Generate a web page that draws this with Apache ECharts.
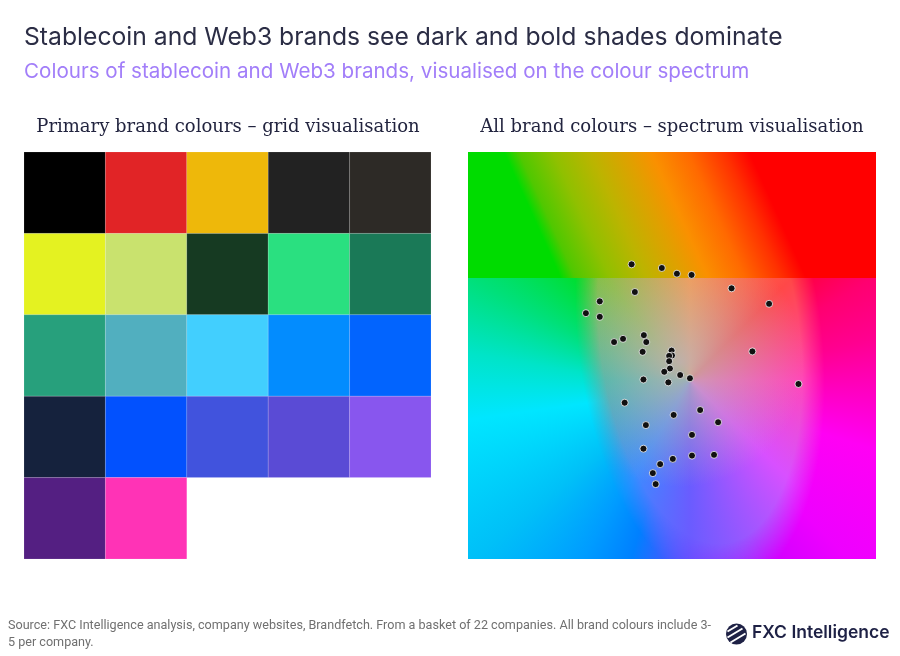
<!DOCTYPE html>
<html>
<head>
<meta charset="utf-8">
<script src="https://cdn.jsdelivr.net/npm/echarts@6/dist/echarts.min.js"></script>
<style>
  html, body { margin: 0; padding: 0; background: #fff; }
  #main { width: 900px; height: 656px; }
</style>
</head>
<body>
<div id="main"></div>
<script>
// left panel: primary brand colours, 5 per row
var gridCols = ['c1', 'c2', 'c3', 'c4', 'c5'];
var gridRows = ['r1', 'r2', 'r3', 'r4', 'r5'];
var primaryColours = [
  '#000000', '#E12426', '#EEB80A', '#222222', '#2D2A26',
  '#E4F221', '#C9E26E', '#163A22', '#2AE080', '#1A7957',
  '#27A07C', '#51AFBF', '#42CFFE', '#038CFE', '#0264FE',
  '#15223D', '#0251FE', '#4153DD', '#5A4BD5', '#8856EE',
  '#541F82', '#FF33B6'
];

// right panel: all brand colours placed on the spectrum (0-100 both ways)
var spotX = [40.1, 47.5, 51.2, 54.8, 64.6, 40.9, 73.8, 32.3, 28.9, 32.3,
             43.1, 38.0, 35.8, 43.7, 42.8, 49.9, 50.0, 49.3, 49.3, 49.5,
             48.1, 52.0, 54.4, 43.0, 49.1, 69.7, 81.0, 38.4, 56.9, 50.4,
             61.3, 43.6, 54.9, 43.0, 60.3, 54.9, 50.2, 47.1, 45.3, 46.0];
var spotY = [72.4, 71.5, 70.1, 69.8, 66.5, 65.6, 62.7, 63.3, 60.4, 59.5,
             55.0, 54.1, 53.3, 53.3, 50.9, 51.2, 50.0, 49.9, 48.6, 46.8,
             46.0, 45.2, 44.4, 44.1, 43.4, 51.0, 43.0, 38.4, 36.6, 35.4,
             33.6, 32.9, 30.5, 27.1, 25.6, 25.4, 24.6, 23.3, 21.1, 18.4];

var titleText = 'Stablecoin and Web3 brands see dark and bold shades dominate';
var subtitleText = 'Colours of stablecoin and Web3 brands, visualised on the colour spectrum';
var leftHead = 'Primary brand colours \u2013 grid visualisation';
var rightHead = 'All brand colours \u2013 spectrum visualisation';
var sourceText = 'Source: FXC Intelligence analysis, company websites, Brandfetch. From a basket of 22 companies. All brand colours include 3-\n5 per company.';

function addStops(g, stops) {
  stops.forEach(function (s) { g.addColorStop(s[0] / 360, s[1]); });
}

// background picture for the spectrum panel
function makeSpectrum(w, h) {
  var cv = document.createElement('canvas');
  cv.width = w; cv.height = h;
  var ctx = cv.getContext('2d');
  var seam = 126;
  var hasConic = !!ctx.createConicGradient;

  // lower band, outer hues
  if (hasConic) {
    var g = ctx.createConicGradient(0, 212, 238);
    addStops(g, [
      [0, '#FF00C0'], [17, '#FF00F4'], [45, '#EE00FF'], [62, '#D000FF'],
      [85, '#7040FF'], [106, '#0080FF'], [120, '#009CFF'], [141, '#00C0F8'],
      [172, '#00E6FF'], [190, '#00E4C8'], [208, '#00E07A'], [240, '#00DD00'],
      [300, '#FF0000'], [330, '#FF0070'], [345, '#FF0090'], [360, '#FF00C0']
    ]);
    ctx.fillStyle = g;
  } else {
    ctx.fillStyle = '#00C8FF';
  }
  ctx.fillRect(0, seam, w, h - seam);

  // inner, paler ellipse
  var inner = document.createElement('canvas');
  inner.width = w; inner.height = h;
  var ic = inner.getContext('2d');
  if (hasConic) {
    var g2 = ic.createConicGradient(0, 222, 228);
    addStops(g2, [
      [0, '#FF48B8'], [45, '#D850FF'], [90, '#6A5CFF'], [120, '#3C8CFF'],
      [180, '#28BCA8'], [230, '#88C040'], [270, '#FF9840'], [315, '#FF4848'],
      [360, '#FF48B8']
    ]);
    ic.fillStyle = g2;
  } else {
    ic.fillStyle = '#B0A8C0';
  }
  ic.fillRect(0, 0, w, h);
  var gr = ic.createRadialGradient(212, 210, 0, 212, 210, 125);
  gr.addColorStop(0, 'rgba(192,176,180,0.9)');
  gr.addColorStop(0.45, 'rgba(192,176,180,0.5)');
  gr.addColorStop(1, 'rgba(192,176,180,0)');
  ic.fillStyle = gr;
  ic.fillRect(0, 0, w, h);
  // soft elliptical mask
  ic.save();
  ic.globalCompositeOperation = 'destination-in';
  ic.translate(232, 188);
  ic.rotate(-0.12);
  ic.scale(122, 250);
  var gm = ic.createRadialGradient(0, 0, 0, 0, 0, 1);
  gm.addColorStop(0, 'rgba(0,0,0,1)');
  gm.addColorStop(0.82, 'rgba(0,0,0,1)');
  gm.addColorStop(1, 'rgba(0,0,0,0)');
  ic.fillStyle = gm;
  ic.fillRect(-5, -5, 10, 10);
  ic.restore();

  ctx.save();
  ctx.beginPath();
  ctx.rect(0, seam, w, h - seam);
  ctx.clip();
  ctx.drawImage(inner, 0, 0);
  ctx.restore();

  // upper band
  var gt = ctx.createLinearGradient(36, 0, 240, -92);
  gt.addColorStop(0, '#00DC00');
  gt.addColorStop(0.06, '#50C800');
  gt.addColorStop(0.2, '#90C000');
  gt.addColorStop(0.35, '#BCB400');
  gt.addColorStop(0.5, '#E0A000');
  gt.addColorStop(0.6, '#FA9000');
  gt.addColorStop(0.75, '#FF6A00');
  gt.addColorStop(0.9, '#FF3000');
  gt.addColorStop(1, '#FF0000');
  ctx.fillStyle = gt;
  ctx.fillRect(0, 0, w, seam);
  return cv;
}

var spectrum = makeSpectrum(408, 407);

var cellData = primaryColours.map(function (c, i) {
  return [i % 5, Math.floor(i / 5)];
});
var spotData = spotX.map(function (x, i) { return [x, spotY[i]]; });

var myChart = echarts.init(document.getElementById('main'));
var option = {
  backgroundColor: '#ffffff',
  animation: false,
  title: [
    {
      text: titleText, left: 24, top: 25, padding: 0,
      textStyle: { fontFamily: 'Inter', fontSize: 24.7, fontWeight: 'normal', color: '#2B2D45' }
    },
    {
      text: subtitleText, left: 24, top: 61, padding: 0,
      textStyle: { fontFamily: 'Inter', fontSize: 20.6, fontWeight: 'normal', color: '#A27EF9' }
    },
    {
      text: leftHead, left: 228, top: 118, padding: 0, textAlign: 'center',
      textStyle: { fontFamily: 'DejaVu Serif', fontSize: 18, fontWeight: 'normal', color: '#22243F' }
    },
    {
      text: rightHead, left: 672, top: 118, padding: 0, textAlign: 'center',
      textStyle: { fontFamily: 'DejaVu Serif', fontSize: 18, fontWeight: 'normal', color: '#22243F' }
    }
  ],
  grid: [
    { left: 24, top: 152, width: 407, height: 407 },
    { left: 468, top: 152, width: 408, height: 407 }
  ],
  xAxis: [
    { type: 'category', gridIndex: 0, data: gridCols, show: false },
    { type: 'value', gridIndex: 1, min: 0, max: 100, show: false }
  ],
  yAxis: [
    { type: 'category', gridIndex: 0, data: gridRows, inverse: true, show: false },
    { type: 'value', gridIndex: 1, min: 0, max: 100, show: false }
  ],
  graphic: [
    {
      type: 'image', left: 468, top: 152, z: 0, silent: true,
      style: { image: spectrum, width: 408, height: 407 }
    },
    {
      type: 'text', left: 8, top: 617, silent: true,
      style: { text: sourceText, fill: '#707070', font: '12.6px Roboto', lineHeight: 17 }
    },
    {
      type: 'group', left: 725, top: 623, silent: true,
      children: [
        { type: 'circle', shape: { cx: 11, cy: 10.5, r: 10.5 }, style: { fill: '#1E2145' } },
        { type: 'line', shape: { x1: 2, y1: 8, x2: 12, y2: 2 }, style: { stroke: '#fff', lineWidth: 2 } },
        { type: 'line', shape: { x1: 2, y1: 14, x2: 17, y2: 5 }, style: { stroke: '#fff', lineWidth: 2 } },
        { type: 'line', shape: { x1: 5, y1: 19, x2: 20, y2: 10 }, style: { stroke: '#fff', lineWidth: 2 } }
      ]
    },
    {
      type: 'text', left: 752, top: 624, silent: true,
      style: { text: 'FXC Intelligence', fill: '#1E2145', font: '600 17.5px Inter' }
    }
  ],
  series: [
    {
      type: 'custom',
      xAxisIndex: 0, yAxisIndex: 0,
      data: cellData,
      renderItem: function (params, api) {
        var c = api.coord([api.value(0), api.value(1)]);
        var s = api.size([1, 1]);
        return {
          type: 'rect',
          shape: { x: c[0] - s[0] / 2, y: c[1] - s[1] / 2, width: s[0], height: s[1] },
          style: { fill: primaryColours[params.dataIndex], stroke: 'rgba(255,255,255,0.25)', lineWidth: 0.5 }
        };
      }
    },
    {
      type: 'scatter',
      xAxisIndex: 1, yAxisIndex: 1,
      data: spotData,
      symbolSize: 7,
      z: 3,
      itemStyle: { color: '#111111', borderColor: 'rgba(255,255,255,0.75)', borderWidth: 1, opacity: 1 }
    }
  ]
};

myChart.setOption(option);
</script>
</body>
</html>
